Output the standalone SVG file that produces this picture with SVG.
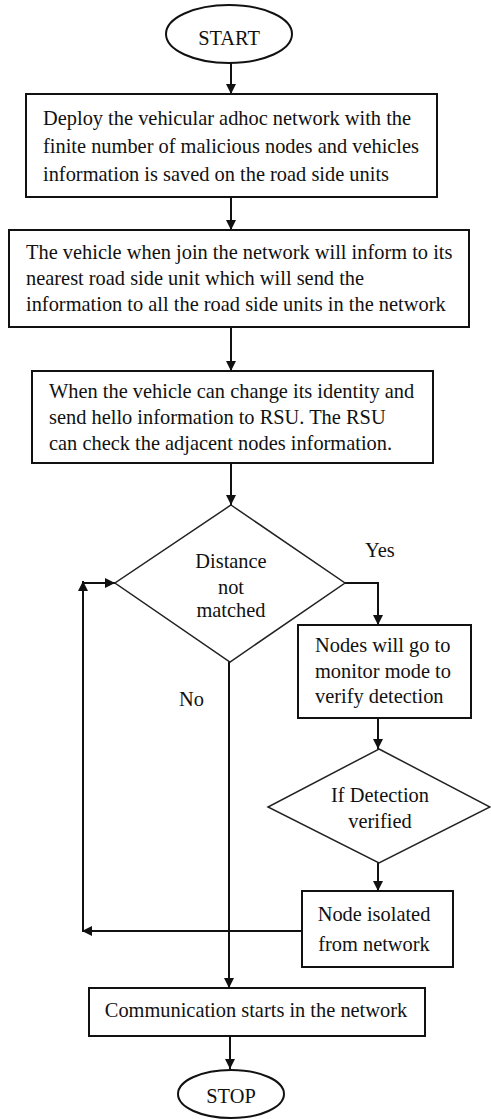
<svg xmlns="http://www.w3.org/2000/svg" width="491" height="1119" viewBox="0 0 491 1119">
<style>
.box{fill:#fff;stroke:#111;stroke-width:2}
.dia{fill:#fff;stroke:#222;stroke-width:1.5}
.t{font-family:"Liberation Serif","Times New Roman",serif;font-size:20.4px;fill:#111}
.c{text-anchor:middle}
.ln{fill:none;stroke:#111;stroke-width:2}
</style>
<defs>
<marker id="ah" viewBox="0 0 10 10" refX="10" refY="5" markerWidth="10" markerHeight="10" markerUnits="userSpaceOnUse" orient="auto">
<path d="M0,0 L10,5 L0,10 Z" fill="#111"/>
</marker>
</defs>
<rect width="491" height="1119" fill="#fff"/>
<g id="connectors">
<line class="ln" x1="231" y1="63" x2="231" y2="94" marker-end="url(#ah)"/>
<line class="ln" x1="231" y1="197" x2="231" y2="230" marker-end="url(#ah)"/>
<line class="ln" x1="231" y1="327" x2="231" y2="371" marker-end="url(#ah)"/>
<line class="ln" x1="231" y1="463" x2="231" y2="505" marker-end="url(#ah)"/>
<polyline class="ln" points="345,583 378,583 378,625" marker-end="url(#ah)"/>
<line class="ln" x1="378" y1="718" x2="378" y2="749" marker-end="url(#ah)"/>
<line class="ln" x1="378" y1="863" x2="378" y2="891" marker-end="url(#ah)"/>
<line class="ln" x1="229" y1="662" x2="229" y2="988" marker-end="url(#ah)"/>
<line class="ln" x1="302" y1="931" x2="82" y2="931" marker-end="url(#ah)"/>
<line class="ln" x1="83" y1="931" x2="83" y2="581" marker-end="url(#ah)"/>
<line class="ln" x1="83" y1="583" x2="115" y2="583" marker-end="url(#ah)"/>
<line class="ln" x1="230" y1="1036" x2="230" y2="1069" marker-end="url(#ah)"/>
</g>
<g id="start">
<ellipse class="box" cx="229" cy="34" rx="63" ry="29" stroke-width="1.5"/>
<text class="t c" x="229" y="45">START</text>
</g>
<g id="deploy">
<rect class="box" x="26" y="94" width="411" height="103"/>
<text class="t" x="43" y="125">Deploy the vehicular adhoc network with the</text>
<text class="t" x="43" y="153">finite number of malicious nodes and vehicles</text>
<text class="t" x="43" y="181">information is saved on the road side units</text>
</g>
<g id="join">
<rect class="box" x="9" y="230" width="460" height="97"/>
<text class="t" x="26" y="259">The vehicle when join the network will inform to its</text>
<text class="t" x="26" y="285">nearest road side unit which will send the</text>
<text class="t" x="26" y="311">information to all the road side units in the network</text>
</g>
<g id="identity">
<rect class="box" x="32" y="371" width="401" height="92"/>
<text class="t" x="49" y="398">When the vehicle can change its identity and</text>
<text class="t" x="49" y="424">send hello information to RSU. The RSU</text>
<text class="t" x="49" y="450">can check the adjacent nodes information.</text>
</g>
<g id="distance">
<polygon class="dia" points="231,505 345,583 230,662 115,583"/>
<text class="t c" x="231" y="568">Distance</text>
<text class="t c" x="231" y="594">not</text>
<text class="t c" x="231" y="617">matched</text>
</g>
<g id="labels">
<text class="t" x="365" y="557">Yes</text>
<text class="t" x="179" y="706">No</text>
</g>
<g id="monitor">
<rect class="box" x="298" y="625" width="173" height="93"/>
<text class="t" x="315" y="652">Nodes will go to</text>
<text class="t" x="315" y="678">monitor mode to</text>
<text class="t" x="315" y="703">verify detection</text>
</g>
<g id="verified">
<polygon class="dia" points="379,749 490,807 379,863 268,807"/>
<text class="t c" x="380" y="802">If Detection</text>
<text class="t c" x="380" y="828">verified</text>
</g>
<g id="isolated">
<rect class="box" x="302" y="891" width="151" height="76"/>
<text class="t c" x="374" y="921">Node isolated</text>
<text class="t c" x="374" y="951">from network</text>
</g>
<g id="communication">
<rect class="box" x="89" y="988" width="336" height="48"/>
<text class="t c" x="256" y="1017">Communication starts in the network</text>
</g>
<g id="stop">
<ellipse class="box" cx="231" cy="1094" rx="53" ry="24" stroke-width="1.5"/>
<text class="t c" x="231" y="1103">STOP</text>
</g>
</svg>
